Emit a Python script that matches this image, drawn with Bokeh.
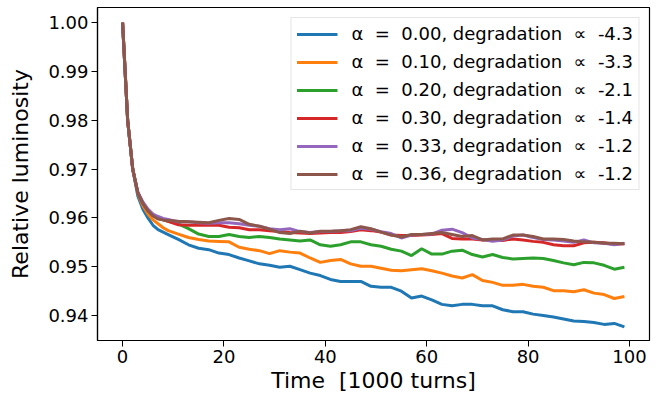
from bokeh.plotting import figure
from bokeh.models import Range1d, FixedTicker, NumeralTickFormatter, Legend, LegendItem
from bokeh.embed import file_html
from bokeh.resources import INLINE

# ---- data ----
x_head = [0, 1, 2, 3, 4, 5, 6, 7, 8]
x_tail = list(range(9, 100, 2))

blue_head = [1.000, 0.980, 0.970, 0.9645, 0.9618, 0.9600, 0.9585, 0.9576, 0.9571]
blue_tail = [0.9566, 0.9556, 0.9545, 0.9538, 0.9535, 0.9528, 0.9525, 0.9518, 0.9512, 0.9506,
             0.9503, 0.9499, 0.9501, 0.9494, 0.9487, 0.9482, 0.9474, 0.9470, 0.9470, 0.9470,
             0.9460, 0.9458, 0.9458, 0.9450, 0.9436, 0.9440, 0.9432, 0.9423, 0.9420, 0.9423,
             0.9423, 0.9420, 0.9420, 0.9412, 0.9408, 0.9408, 0.9403, 0.9400, 0.9397, 0.9393,
             0.9389, 0.9388, 0.9386, 0.9382, 0.9384, 0.9377]

orange_head = [1.000, 0.980, 0.970, 0.9650, 0.9625, 0.9608, 0.9596, 0.9588, 0.9580]
orange_tail = [0.9574, 0.9567, 0.9560, 0.9556, 0.9553, 0.9552, 0.9551, 0.9540, 0.9536, 0.9533,
               0.9527, 0.9533, 0.9530, 0.9528, 0.9518, 0.9509, 0.9513, 0.9515, 0.9506, 0.9501,
               0.9501, 0.9497, 0.9493, 0.9492, 0.9494, 0.9496, 0.9492, 0.9487, 0.9481, 0.9477,
               0.9484, 0.9472, 0.9468, 0.9462, 0.9462, 0.9464, 0.9460, 0.9458, 0.9451, 0.9451,
               0.9449, 0.9453, 0.9446, 0.9443, 0.9435, 0.9439]

green_head = [1.000, 0.980, 0.970, 0.9652, 0.9630, 0.9615, 0.9605, 0.9599, 0.9596]
green_tail = [0.9593, 0.9588, 0.9578, 0.9567, 0.9562, 0.9562, 0.9566, 0.9562, 0.9560, 0.9562,
              0.9560, 0.9557, 0.9555, 0.9553, 0.9555, 0.9545, 0.9542, 0.9545, 0.9551, 0.9551,
              0.9545, 0.9542, 0.9536, 0.9532, 0.9523, 0.9537, 0.9526, 0.9526, 0.9532, 0.9534,
              0.9525, 0.9520, 0.9525, 0.9519, 0.9516, 0.9517, 0.9518, 0.9517, 0.9513, 0.9508,
              0.9504, 0.9509, 0.9508, 0.9503, 0.9495, 0.9499]

red_head = [1.000, 0.980, 0.970, 0.9652, 0.9630, 0.9615, 0.9605, 0.9599, 0.9596]
red_tail = [0.9593, 0.9586, 0.9585, 0.9585, 0.9585, 0.9585, 0.9581, 0.9580, 0.9576, 0.9576,
            0.9574, 0.9572, 0.9570, 0.9569, 0.9568, 0.9569, 0.9570, 0.9570, 0.9572, 0.9576,
            0.9574, 0.9571, 0.9565, 0.9564, 0.9564, 0.9565, 0.9566, 0.9568, 0.9558, 0.9557,
            0.9557, 0.9555, 0.9555, 0.9554, 0.9557, 0.9555, 0.9552, 0.9550, 0.9545, 0.9543,
            0.9543, 0.9549, 0.9550, 0.9549, 0.9546, 0.9547]

purple_head = [1.000, 0.980, 0.970, 0.9653, 0.9633, 0.9618, 0.9608, 0.9603, 0.9599]
purple_tail = [0.9597, 0.9592, 0.9592, 0.9590, 0.9589, 0.9590, 0.9590, 0.9588, 0.9585, 0.9583,
               0.9578, 0.9576, 0.9578, 0.9572, 0.9570, 0.9572, 0.9572, 0.9574, 0.9574, 0.9579,
               0.9577, 0.9572, 0.9568, 0.9559, 0.9565, 0.9566, 0.9567, 0.9575, 0.9577, 0.9570,
               0.9559, 0.9556, 0.9552, 0.9555, 0.9563, 0.9565, 0.9560, 0.9556, 0.9555, 0.9553,
               0.9550, 0.9555, 0.9549, 0.9548, 0.9545, 0.9548]

brown_head = [1.000, 0.980, 0.970, 0.9652, 0.9630, 0.9615, 0.9604, 0.9598, 0.9596]
brown_tail = [0.9595, 0.9593, 0.9592, 0.9591, 0.9590, 0.9595, 0.9599, 0.9597, 0.9587, 0.9583,
              0.9577, 0.9570, 0.9568, 0.9573, 0.9569, 0.9573, 0.9573, 0.9574, 0.9576, 0.9582,
              0.9578, 0.9571, 0.9565, 0.9561, 0.9566, 0.9566, 0.9568, 0.9570, 0.9566, 0.9562,
              0.9564, 0.9555, 0.9557, 0.9557, 0.9565, 0.9565, 0.9562, 0.9557, 0.9557, 0.9556,
              0.9553, 0.9551, 0.9550, 0.9548, 0.9548, 0.9547]

labels = [
    "α  =  0.00, degradation  ∝  -4.3",
    "α  =  0.10, degradation  ∝  -3.3",
    "α  =  0.20, degradation  ∝  -2.1",
    "α  =  0.30, degradation  ∝  -1.4",
    "α  =  0.33, degradation  ∝  -1.2",
    "α  =  0.36, degradation  ∝  -1.2",
]
colors = ["#1f77b4", "#ff7f0e", "#2ca02c", "#d62728", "#9467bd", "#8c564b"]
series = [
    blue_head + blue_tail,
    orange_head + orange_tail,
    green_head + green_tail,
    red_head + red_tail,
    purple_head + purple_tail,
    brown_head + brown_tail,
]
x_vals = x_head + x_tail

y_ticks = [0.94, 0.95, 0.96, 0.97, 0.98, 0.99, 1.00]
x_ticks = [0, 20, 40, 60, 80, 100]

FONT = "DejaVu Sans"

p = figure(width=670, height=397, output_backend="svg", toolbar_location=None,
           x_range=Range1d(-4.95, 103.95), y_range=Range1d(0.9349, 1.0031),
           min_border_left=97, min_border_right=21, min_border_top=7, min_border_bottom=57)

items = []
for ys, c, lab in zip(series, colors, labels):
    r = p.line(x_vals, ys, line_color=c, line_width=3)
    items.append(LegendItem(label=lab, renderers=[r]))

p.xgrid.visible = False
p.ygrid.visible = False
p.outline_line_color = "black"
p.outline_line_width = 1.2
p.background_fill_color = "white"
p.border_fill_color = "white"

for ax in (p.xaxis[0], p.yaxis[0]):
    ax.axis_line_color = "black"
    ax.axis_line_width = 1.2
    ax.major_tick_in = 0
    ax.major_tick_out = 6
    ax.major_tick_line_color = "black"
    ax.minor_tick_line_color = None
    ax.major_label_text_font = FONT
    ax.major_label_text_font_size = "18px"
    ax.major_label_text_color = "black"
    ax.major_label_standoff = 3
    ax.axis_label_text_font = FONT
    ax.axis_label_text_font_size = "22px"
    ax.axis_label_text_font_style = "normal"
    ax.axis_label_text_color = "black"

p.xaxis[0].ticker = FixedTicker(ticks=x_ticks)
p.yaxis[0].ticker = FixedTicker(ticks=y_ticks)
p.yaxis[0].formatter = NumeralTickFormatter(format="0.00")
p.xaxis[0].axis_label = "Time\u00a0 [1000 turns]"
p.yaxis[0].axis_label = "Relative luminosity"
p.xaxis[0].axis_label_standoff = 2
p.yaxis[0].axis_label_standoff = 12

legend = Legend(items=items, location="top_right")
legend.label_text_font = FONT
legend.label_text_font_size = "18px"
legend.label_text_color = "black"
legend.glyph_width = 41
legend.glyph_height = 20
legend.label_height = 20
legend.label_standoff = 14
legend.spacing = 7
legend.padding = 5
legend.margin = 10
legend.border_line_color = "#cccccc"
legend.border_line_width = 1
legend.background_fill_alpha = 0.8
p.add_layout(legend)

open("out.html", "w").write(file_html(p, INLINE))
